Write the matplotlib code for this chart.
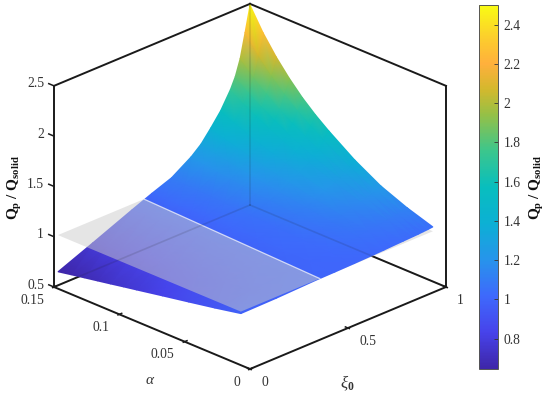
#!/usr/bin/env python3
"""Qp / Qsolid surface over xi_0 and alpha, with the Qp = Qsolid plane."""

import numpy as np
import matplotlib
matplotlib.use('Agg')
import matplotlib.pyplot as plt
import matplotlib.tri as mtri
from matplotlib.cm import ScalarMappable
from matplotlib.colors import LinearSegmentedColormap, Normalize
from mpl_toolkits.mplot3d import proj3d

plt.rcParams['font.family'] = ['Liberation Serif', 'DejaVu Serif']
plt.rcParams['mathtext.fontset'] = 'custom'
plt.rcParams['mathtext.rm'] = 'Liberation Serif'
plt.rcParams['mathtext.it'] = 'Liberation Serif:italic'
plt.rcParams['mathtext.bf'] = 'Liberation Serif:bold'

W, H = 550, 395

# values
xi_values = [0.02, 0.2, 0.4, 0.5, 0.6, 0.7, 0.75, 0.8, 0.85, 0.9, 0.925, 0.95, 0.975, 1.0]
alpha_values = [0.01, 0.03, 0.05, 0.07, 0.09, 0.10, 0.11, 0.12, 0.13, 0.14, 0.15]
q_ratio = [
    [0.980, 0.985, 0.999, 1.002, 1.006, 1.012, 1.016, 1.021, 1.025, 1.029, 1.031, 1.035, 1.038, 1.043],
    [0.927, 0.956, 0.989, 1.005, 1.018, 1.038, 1.049, 1.064, 1.078, 1.093, 1.100, 1.108, 1.118, 1.128],
    [0.878, 0.927, 0.982, 1.008, 1.030, 1.064, 1.085, 1.111, 1.137, 1.164, 1.178, 1.195, 1.218, 1.235],
    [0.830, 0.897, 0.974, 1.012, 1.043, 1.093, 1.123, 1.163, 1.203, 1.246, 1.270, 1.304, 1.345, 1.385],
    [0.781, 0.868, 0.967, 1.015, 1.056, 1.123, 1.164, 1.220, 1.277, 1.339, 1.376, 1.429, 1.500, 1.568],
    [0.757, 0.853, 0.963, 1.017, 1.063, 1.138, 1.186, 1.251, 1.317, 1.392, 1.437, 1.500, 1.588, 1.670],
    [0.732, 0.839, 0.960, 1.018, 1.070, 1.155, 1.209, 1.283, 1.359, 1.448, 1.501, 1.579, 1.686, 1.787],
    [0.708, 0.824, 0.956, 1.020, 1.077, 1.171, 1.233, 1.317, 1.404, 1.510, 1.575, 1.667, 1.797, 1.925],
    [0.684, 0.809, 0.952, 1.022, 1.084, 1.189, 1.257, 1.353, 1.453, 1.577, 1.654, 1.765, 1.925, 2.083],
    [0.660, 0.795, 0.949, 1.023, 1.091, 1.207, 1.283, 1.390, 1.504, 1.650, 1.742, 1.875, 2.070, 2.268],
    [0.635, 0.780, 0.945, 1.025, 1.098, 1.225, 1.310, 1.430, 1.560, 1.730, 1.840, 2.000, 2.240, 2.490],
]
plane_level = 1.0
# xi_0 where the surface crosses the plane, at the first and last alpha
crossing_xi = [0.423, 0.459]

xi_ticks = [0, 0.5, 1]
xi_tick_labels = ['0', '0.5', '1']
alpha_ticks = [0, 0.05, 0.1, 0.15]
alpha_tick_labels = ['0', '0.05', '0.1', '0.15']
z_ticks = [0.5, 1, 1.5, 2, 2.5]
z_tick_labels = ['0.5', '1', '1.5', '2', '2.5']
cbar_ticks = [0.8, 1, 1.2, 1.4, 1.6, 1.8, 2, 2.2, 2.4]
cbar_tick_labels = ['0.8', '1', '1.2', '1.4', '1.6', '1.8', '2', '2.2', '2.4']

# parula-like colours
parula = LinearSegmentedColormap.from_list('parula', [
    (0.00, (62/255, 38/255, 168/255)),
    (0.10, (71/255, 67/255, 235/255)),
    (0.20, (62/255, 105/255, 252/255)),
    (0.30, (39/255, 148/255, 235/255)),
    (0.40, (12/255, 176/255, 212/255)),
    (0.50, (8/255, 190/255, 190/255)),
    (0.60, (60/255, 198/255, 140/255)),
    (0.70, (150/255, 192/255, 70/255)),
    (0.77, (212/255, 184/255, 45/255)),
    (0.84, (255/255, 176/255, 60/255)),
    (0.91, (252/255, 205/255, 45/255)),
    (1.00, (249/255, 251/255, 20/255)),
])
norm = Normalize(0.645, 2.5)

INK = '#1a1a1a'
TEXT = '#333333'

fig = plt.figure(figsize=(W / 100, H / 100), dpi=100)
ax = fig.add_axes([0.1, 0.1, 0.7, 0.7 * W / H], projection='3d', proj_type='ortho')
ax.view_init(elev=24.73, azim=-135)
ax.set_box_aspect((1, 1, 0.799))
ax.set_xlim(0, 1, view_margin=0)
ax.set_ylim(0, 0.15, view_margin=0)
ax.set_zlim(0.5, 2.5, view_margin=0)
ax.set_axis_off()


def to_px(x, y, z):
    """3D data coordinates to figure pixels, y pointing down."""
    xs, ys, _ = proj3d.proj_transform(np.ravel(x), np.ravel(y), np.ravel(z), ax.get_proj())
    pts = ax.transData.transform(np.column_stack([xs, ys]))
    return pts[:, 0], H - pts[:, 1]


# fit the box on the picture: left/right corners at x 55 and 447, front at (250, 369)
for _ in range(3):
    fig.canvas.draw()
    px, py = to_px([0, 1, 0], [0.15, 0, 0], [0.5, 0.5, 0.5])
    pos = ax.get_position(original=True)
    scale = (447 - 55) / (px[1] - px[0])
    new_w = pos.width * scale
    new_h = pos.height * scale
    ax.set_position([pos.x0 - (new_w - pos.width) / 2, pos.y0 - (new_h - pos.height) / 2, new_w, new_h])
    fig.canvas.draw()
    px, py = to_px([0], [0], [0.5])
    pos = ax.get_position(original=True)
    ax.set_position([pos.x0 + (250 - px[0]) / W, pos.y0 - (369 - py[0]) / H, pos.width, pos.height])
fig.canvas.draw()

# box
edges = [
    ((0, 1), (0, 0), (0.5, 0.5)),
    ((0, 0), (0, 0.15), (0.5, 0.5)),
    ((1, 1), (0, 0.15), (0.5, 0.5)),
    ((0, 1), (0.15, 0.15), (0.5, 0.5)),
    ((0, 1), (0.15, 0.15), (2.5, 2.5)),
    ((1, 1), (0, 0.15), (2.5, 2.5)),
    ((0, 0), (0.15, 0.15), (0.5, 2.5)),
    ((1, 1), (0, 0), (0.5, 2.5)),
    ((1, 1), (0.15, 0.15), (0.5, 2.5)),
]
for ex, ey, ez in edges:
    ax.plot(ex, ey, ez, color=INK, lw=1.4, solid_capstyle='projecting')

# ticks
for t in xi_ticks:
    ax.plot([t, t], [-0.001, 0.002], [0.5, 0.5], color=INK, lw=1.1)
for t in alpha_ticks:
    ax.plot([-0.007, 0.012], [t, t], [0.5, 0.5], color=INK, lw=1.1)
for t in z_ticks:
    ax.plot([0, 0], [0.15, 0.154], [t, t], color=INK, lw=1.1)

# overlay in pixels, for the smooth shaded surface
ov = fig.add_axes([0, 0, 1, 1])
ov.patch.set_visible(False)

xi_grid, alpha_grid = np.meshgrid(xi_values, alpha_values)
z_grid = np.array(q_ratio)
sx, sy = to_px(xi_grid, alpha_grid, z_grid)
n_rows, n_cols = z_grid.shape
triangles = []
for i in range(n_rows - 1):
    for j in range(n_cols - 1):
        a = i * n_cols + j
        b = a + 1
        c = a + n_cols
        d = c + 1
        triangles.append([a, b, d])
        triangles.append([a, d, c])
ov.tripcolor(mtri.Triangulation(sx, sy, triangles), z_grid.ravel(), shading='gouraud',
             cmap=parula, norm=norm, zorder=2)

# plane: the part past the crossing sits under the surface, the rest over it
a0, a1 = alpha_values[0], alpha_values[-1]
xi0, xi1 = xi_values[0], xi_values[-1]
cross0, cross1 = crossing_xi
under_x, under_y = to_px([cross0, xi1, xi1, cross1], [a0, a0, a1, a1], [plane_level] * 4)
over_x, over_y = to_px([xi0, cross0, cross1, xi0], [a0, a0, a1, a1], [plane_level] * 4)
ov.fill(under_x, under_y, color=(0.8, 0.8, 0.8), alpha=0.5, lw=0, zorder=1)
ov.fill(over_x, over_y, color=(0.8, 0.8, 0.8), alpha=0.5, lw=0, zorder=3)
lx, ly = to_px([cross0, cross1], [a0, a1], [plane_level] * 2)
ov.plot(lx, ly, color='white', lw=0.9, alpha=0.7, zorder=4)

# back edges show faintly through the surface
for ex, ey, ez in [edges[2], edges[3], edges[8]]:
    lx, ly = to_px(ex, ey, ez)
    ov.plot(lx, ly, color=INK, lw=1.2, alpha=0.13, zorder=5)

# tick labels
for t, s in zip(xi_ticks, xi_tick_labels):
    x, y = to_px(t, 0, 0.5)
    ov.text(x[0] + 11, y[0] + 13, s, ha='left', va='center', fontsize=9.8, color=TEXT)
for t, s in zip(alpha_ticks, alpha_tick_labels):
    x, y = to_px(0, t, 0.5)
    ov.text(x[0] - 10, y[0] + 13, s, ha='right', va='center', fontsize=9.8, color=TEXT)
for t, s in zip(z_ticks, z_tick_labels):
    x, y = to_px(0, 0.15, t)
    ov.text(x[0] - 10, y[0] - 2, s, ha='right', va='center', fontsize=9.8, color=TEXT)

# axis labels
ov.text(150, 381, r'$\alpha$', ha='center', va='center', fontsize=11, color=TEXT)
ov.text(347, 383, r'$\xi_{\mathbf{0}}$', ha='center', va='center', fontsize=12, color=TEXT)
q_label = r'$\mathbf{Q_p\ /\ Q_{solid}}$'
ov.text(15, 187, q_label, rotation=90, ha='center', va='center', fontsize=11, color='#111111')

ov.set_xlim(0, W)
ov.set_ylim(H, 0)
ov.axis('off')

# colorbar
cax = fig.add_axes([479 / W, (H - 369) / H, 19 / W, 364 / H])
cb = fig.colorbar(ScalarMappable(norm=norm, cmap=parula), cax=cax)
cb.set_ticks(cbar_ticks)
cb.set_ticklabels(cbar_tick_labels)
cb.ax.tick_params(direction='in', length=3, width=0.6, color='#333333', labelsize=9.8,
                  labelcolor=TEXT, pad=4)
cb.outline.set_edgecolor('#555555')
cb.outline.set_linewidth(0.7)
cb.ax.text(537, 187, q_label, rotation=90, ha='center', va='center', fontsize=11,
           color='#111111', transform=ov.transData)

fig.savefig('out.png', dpi=100)
plt.close(fig)
